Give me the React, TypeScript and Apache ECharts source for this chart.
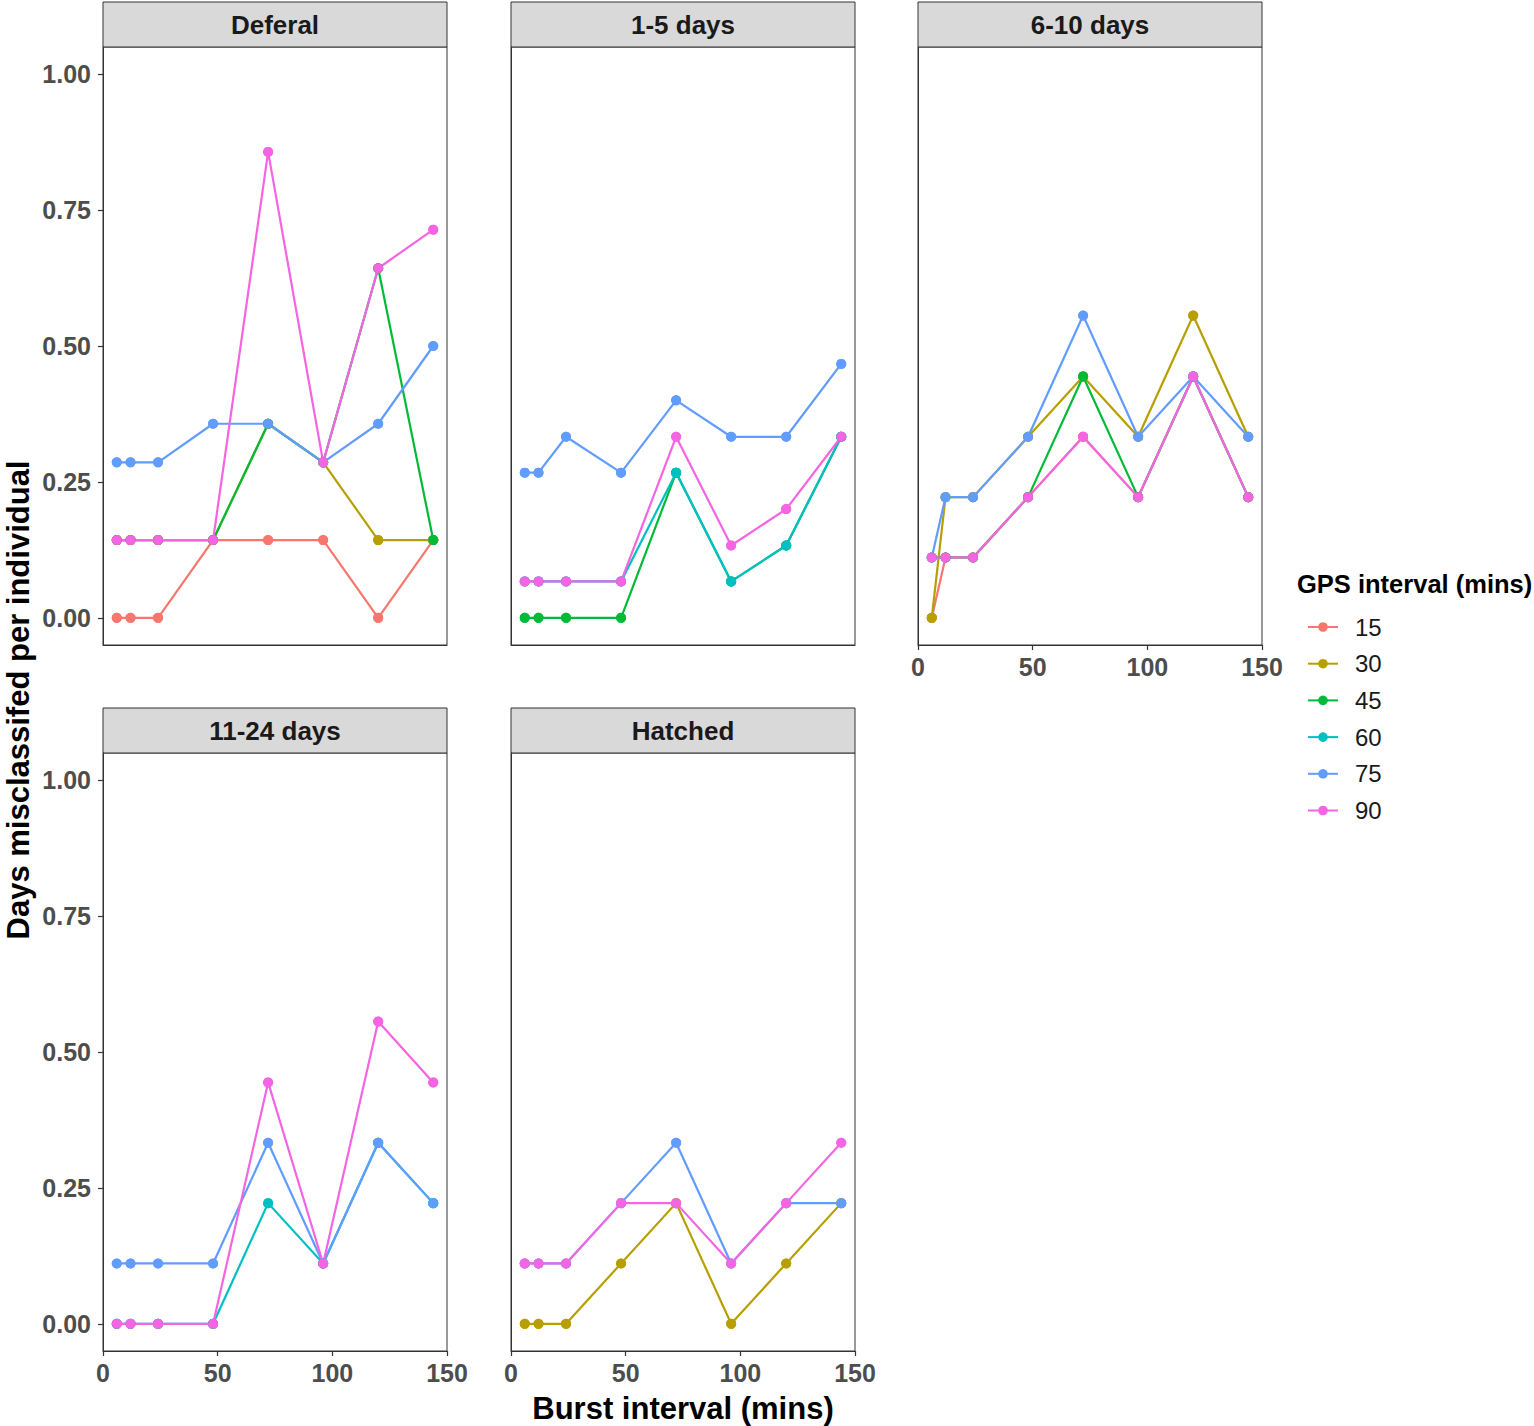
import React, { useEffect, useRef } from "react";
import * as echarts from "echarts";

const BURST = [6, 12, 24, 48, 72, 96, 120, 144];
const GROUPS = ["15", "30", "45", "60", "75", "90"];
const COLORS = ["#F8766D", "#B79F00", "#00BA38", "#00BFC4", "#619CFF", "#F564E3"];
const PANELS = ["Deferal", "1-5 days", "6-10 days", "11-24 days", "Hatched"];
const X_TICKS = [0, 50, 100, 150];
const Y_TICKS = [0, 0.25, 0.5, 0.75, 1];

const deferal: Record<string, number[]> = {
  "15": [0, 0, 0, 0.143, 0.143, 0.143, 0, 0.143],
  "30": [0.143, 0.143, 0.143, 0.143, 0.357, 0.286, 0.143, 0.143],
  "45": [0.143, 0.143, 0.143, 0.143, 0.357, 0.286, 0.643, 0.143],
  "75": [0.286, 0.286, 0.286, 0.357, 0.357, 0.286, 0.357, 0.5],
  "90": [0.143, 0.143, 0.143, 0.143, 0.857, 0.286, 0.643, 0.714],
};
const days1to5: Record<string, number[]> = {
  "45": [0, 0, 0, 0, 0.267, 0.067, 0.133, 0.333],
  "60": [0.067, 0.067, 0.067, 0.067, 0.267, 0.067, 0.133, 0.333],
  "75": [0.267, 0.267, 0.333, 0.267, 0.4, 0.333, 0.333, 0.467],
  "90": [0.067, 0.067, 0.067, 0.067, 0.333, 0.133, 0.2, 0.333],
};
const days6to10: Record<string, number[]> = {
  "15": [0, 0.111, 0.111, 0.222, 0.333, 0.222, 0.444, 0.222],
  "30": [0, 0.222, 0.222, 0.333, 0.444, 0.333, 0.556, 0.333],
  "45": [0.111, 0.111, 0.111, 0.222, 0.444, 0.222, 0.444, 0.222],
  "75": [0.111, 0.222, 0.222, 0.333, 0.556, 0.333, 0.444, 0.333],
  "90": [0.111, 0.111, 0.111, 0.222, 0.333, 0.222, 0.444, 0.222],
};
const days11to24: Record<string, number[]> = {
  "60": [0, 0, 0, 0, 0.222, 0.111, 0.333, 0.222],
  "75": [0.111, 0.111, 0.111, 0.111, 0.333, 0.111, 0.333, 0.222],
  "90": [0, 0, 0, 0, 0.444, 0.111, 0.556, 0.444],
};
const hatched: Record<string, number[]> = {
  "30": [0, 0, 0, 0.111, 0.222, 0, 0.111, 0.222],
  "75": [0.111, 0.111, 0.111, 0.222, 0.333, 0.111, 0.222, 0.222],
  "90": [0.111, 0.111, 0.111, 0.222, 0.222, 0.111, 0.222, 0.333],
};
const PANEL_DATA = [deferal, days1to5, days6to10, days11to24, hatched];

const FONT = '"Liberation Sans", Arial, Helvetica, sans-serif';
const PANEL_POS = [
  { left: 103, top: 47 },
  { left: 511, top: 47 },
  { left: 918, top: 47 },
  { left: 103, top: 753 },
  { left: 511, top: 753 },
];
const PW = 344;
const PH = 598;
const STRIP_H = 45;

export default function App() {
  const ref = useRef<HTMLDivElement>(null);
  useEffect(() => {
    if (!ref.current) return;
    const chart = echarts.init(ref.current, undefined, { renderer: "svg" });

    const grids = PANEL_POS.map((p) => ({
      left: p.left,
      top: p.top,
      width: PW,
      height: PH,
      show: true,
      borderColor: "#333333",
      borderWidth: 1,
      backgroundColor: "#ffffff",
      containLabel: false,
    }));

    const showY = [true, false, false, true, false];
    const showX = [false, false, true, true, true];

    const xAxes = PANEL_POS.map((_, i) => ({
      type: "value",
      gridIndex: i,
      position: "bottom",
      min: 0,
      max: 150,
      interval: 50,
      splitLine: { show: false },
      axisLine: { show: true, onZero: false, lineStyle: { color: "#333333", width: 1 } },
      axisTick: {
        show: showX[i],
        inside: false,
        length: 5,
        lineStyle: { color: "#333333", width: 1.2 },
        customValues: X_TICKS,
      },
      axisLabel: {
        show: showX[i],
        customValues: X_TICKS,
        fontSize: 25,
        fontWeight: "bold",
        color: "#4D4D4D",
        fontFamily: FONT,
        margin: 9,
      },
    }));

    const yAxes = PANEL_POS.map((_, i) => ({
      type: "value",
      gridIndex: i,
      position: "left",
      min: -0.05,
      max: 1.05,
      splitLine: { show: false },
      axisLine: { show: true, onZero: false, lineStyle: { color: "#333333", width: 1 } },
      axisTick: {
        show: showY[i],
        inside: false,
        length: 5,
        lineStyle: { color: "#333333", width: 1.2 },
        customValues: Y_TICKS,
      },
      axisLabel: {
        show: showY[i],
        customValues: Y_TICKS,
        formatter: (v: number) => v.toFixed(2),
        fontSize: 25,
        fontWeight: "bold",
        color: "#4D4D4D",
        fontFamily: FONT,
        margin: 12,
      },
    }));

    const lineSeries: any[] = [];
    const pointSeries: any[] = [];
    PANEL_DATA.forEach((panel, i) => {
      GROUPS.forEach((g, gi) => {
        const vals = panel[g];
        if (!vals) return;
        const data = BURST.map((x, k) => [x, vals[k]]);
        lineSeries.push({
          type: "line",
          name: g,
          xAxisIndex: i,
          yAxisIndex: i,
          data,
          symbol: "circle",
          symbolSize: 10,
          showSymbol: true,
          lineStyle: { color: COLORS[gi], width: 2.2 },
          itemStyle: { color: COLORS[gi] },
          silent: true,
          z: 2,
        });
        pointSeries.push({
          type: "scatter",
          name: g,
          xAxisIndex: i,
          yAxisIndex: i,
          data,
          symbol: "circle",
          symbolSize: 10,
          itemStyle: { color: COLORS[gi], opacity: 1 },
          silent: true,
          z: 3,
        });
      });
    });

    const graphics: any[] = [];
    PANEL_POS.forEach((p, i) => {
      graphics.push({
        type: "rect",
        shape: { x: p.left, y: p.top - STRIP_H, width: PW, height: STRIP_H },
        style: { fill: "#D9D9D9", stroke: "#333333", lineWidth: 1 },
        silent: true,
      });
      graphics.push({
        type: "text",
        x: p.left + PW / 2,
        y: p.top - STRIP_H / 2,
        style: {
          text: PANELS[i],
          fontSize: 26,
          fontWeight: "bold",
          fontFamily: FONT,
          fill: "#1A1A1A",
          align: "center",
          verticalAlign: "middle",
        },
        silent: true,
      });
    });
    graphics.push({
      type: "text",
      x: 683,
      y: 1408,
      style: {
        text: "Burst interval (mins)",
        fontSize: 31,
        fontWeight: "bold",
        fontFamily: FONT,
        fill: "#000000",
        align: "center",
        verticalAlign: "middle",
      },
      silent: true,
    });
    graphics.push({
      type: "text",
      x: 18,
      y: 700,
      rotation: Math.PI / 2,
      style: {
        text: "Days misclassifed per individual",
        fontSize: 31,
        fontWeight: "bold",
        fontFamily: FONT,
        fill: "#000000",
        align: "center",
        verticalAlign: "middle",
      },
      silent: true,
    });
    graphics.push({
      type: "text",
      x: 1297,
      y: 584,
      style: {
        text: "GPS interval (mins)",
        fontSize: 25.5,
        fontWeight: "bold",
        fontFamily: FONT,
        fill: "#000000",
        align: "left",
        verticalAlign: "middle",
      },
      silent: true,
    });

    chart.setOption({
      animation: false,
      backgroundColor: "#ffffff",
      grid: grids,
      xAxis: xAxes,
      yAxis: yAxes,
      legend: {
        data: GROUPS,
        orient: "vertical",
        left: 1302,
        top: 610,
        itemWidth: 30,
        itemHeight: 12,
        itemGap: 12.7,
        selectedMode: false,
        textStyle: {
          fontSize: 24,
          lineHeight: 24,
          fontFamily: FONT,
          color: "#1A1A1A",
          padding: [0, 0, 0, 12],
        },
      },
      series: [...lineSeries, ...pointSeries],
      graphic: graphics,
    });

    return () => chart.dispose();
  }, []);

  return (
    <div
      ref={ref}
      style={{ position: "absolute", left: 0, top: 0, width: 1534, height: 1426 }}
    />
  );
}
